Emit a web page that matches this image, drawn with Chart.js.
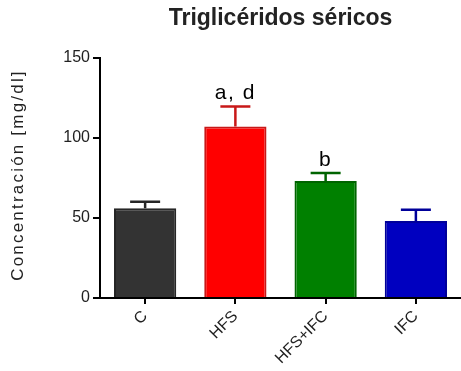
<!DOCTYPE html>
<html>
<head>
<meta charset="utf-8">
<script src="https://cdn.jsdelivr.net/npm/chart.js@4.4.1/dist/chart.umd.min.js"></script>
<style>
  html, body { margin: 0; padding: 0; background: #ffffff; }
  #wrap { width: 461px; height: 371px; }
</style>
</head>
<body>
<div id="wrap"><canvas id="chart" width="461" height="371"></canvas></div>
<script>
// Serum triglycerides by group (mean and SEM, mg/dl)
const categories = ['C', 'HFS', 'HFS+IFC', 'IFC'];
const means = [56, 107, 73, 48];
const sem = [4, 12.5, 5, 7];
const sigLabels = ['', 'a, d', 'b', ''];
const yTicks = [0, 50, 100, 150];

const fillColors = ['#333333', '#ff0000', '#008000', '#0000c0'];
const edgeColors = ['#262626', '#c81818', '#006400', '#00009a'];

const FONT = '"Liberation Sans", Arial, sans-serif';

// Upward-only error bars with caps, plus the significance letters above them
const errorBars = {
  id: 'errorBars',
  afterDatasetsDraw(chart) {
    const { ctx } = chart;
    const yScale = chart.scales.y;
    const meta = chart.getDatasetMeta(0);
    meta.data.forEach((bar, i) => {
      const top = yScale.getPixelForValue(means[i] + sem[i]);
      const half = 15;
      ctx.save();
      ctx.strokeStyle = edgeColors[i];
      ctx.lineWidth = 2.5;
      ctx.beginPath();
      ctx.moveTo(bar.x, bar.y);
      ctx.lineTo(bar.x, top);
      ctx.moveTo(bar.x - half, top);
      ctx.lineTo(bar.x + half, top);
      ctx.stroke();
      if (sigLabels[i]) {
        ctx.fillStyle = '#000000';
        ctx.font = '21px ' + FONT;
        ctx.textAlign = 'center';
        ctx.textBaseline = 'alphabetic';
        ctx.letterSpacing = '1.5px';
        ctx.fillText(sigLabels[i], bar.x, top - 7);
      }
      ctx.restore();
    });
  }
};

// Vertical y-axis caption with spaced letters
const yCaption = {
  id: 'yCaption',
  afterDraw(chart) {
    const { ctx } = chart;
    ctx.save();
    ctx.translate(18, 175);
    ctx.rotate(-Math.PI / 2);
    ctx.fillStyle = '#222222';
    ctx.font = '17px ' + FONT;
    ctx.letterSpacing = '2.2px';
    ctx.textAlign = 'center';
    ctx.textBaseline = 'middle';
    ctx.fillText('Concentración [mg/dl]', 0, 0);
    ctx.restore();
  }
};

new Chart(document.getElementById('chart'), {
  type: 'bar',
  data: {
    labels: categories,
    datasets: [{
      data: means,
      backgroundColor: fillColors,
      borderColor: edgeColors,
      borderWidth: 2,
      borderSkipped: 'bottom',
      barPercentage: 0.69,
      categoryPercentage: 1.0
    }]
  },
  options: {
    responsive: false,
    animation: false,
    devicePixelRatio: 1,
    layout: { padding: { left: 0, right: 0, top: 0, bottom: 0 } },
    plugins: {
      legend: { display: false },
      tooltip: { enabled: false },
      title: {
        display: true,
        fullSize: false,
        text: 'Triglicéridos séricos',
        color: '#222222',
        font: { family: FONT, size: 23, weight: 'bold' },
        padding: { top: 5, bottom: 25 }
      }
    },
    scales: {
      x: {
        offset: true,
        border: { display: true, color: '#000000', width: 2 },
        grid: {
          display: true,
          offset: false,
          drawOnChartArea: false,
          drawTicks: true,
          tickLength: 6,
          tickColor: '#000000',
          lineWidth: 2
        },
        ticks: {
          color: '#222222',
          font: { family: FONT, size: 16 },
          minRotation: 45,
          maxRotation: 45,
          padding: 3
        },
        afterFit(scale) {
          scale.height = 73;
          scale.paddingLeft = 0;
          scale.paddingRight = 0;
        }
      },
      y: {
        min: 0,
        max: 150,
        afterBuildTicks(scale) {
          scale.ticks = yTicks.map(v => ({ value: v }));
        },
        border: { display: true, color: '#000000', width: 2 },
        grid: {
          display: true,
          drawOnChartArea: false,
          drawTicks: true,
          tickLength: 7,
          tickColor: '#000000',
          lineWidth: 2
        },
        ticks: {
          color: '#222222',
          font: { family: FONT, size: 16 },
          padding: 3
        },
        afterFit(scale) {
          scale.width = 100;
          scale.paddingTop = 0;
          scale.paddingBottom = 0;
        }
      }
    }
  },
  plugins: [errorBars, yCaption]
});
</script>
</body>
</html>
